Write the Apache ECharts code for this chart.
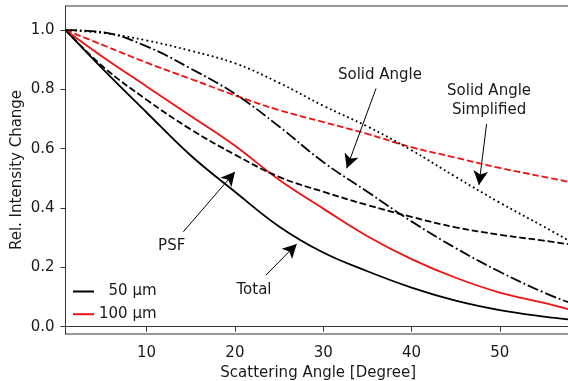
<!DOCTYPE html>
<html><head><meta charset="utf-8">
<script src="https://cdn.jsdelivr.net/npm/echarts@6/dist/echarts.min.js"></script>
<style>html,body{margin:0;padding:0;background:#fff}#c{width:568px;height:381px}</style>
</head><body><div id="c"></div>
<script>
// Scattering angle (degrees)
const angles = [0.82, 5, 10, 15, 20, 25, 30, 35, 40, 45, 50, 55, 58];
// 50 µm (black)
const total50 = [1.0, 0.87, 0.722, 0.577, 0.455, 0.338, 0.25, 0.187, 0.132, 0.088, 0.056, 0.034, 0.024];
const psf50 = [1.0, 0.878, 0.765, 0.665, 0.58, 0.505, 0.455, 0.41, 0.37, 0.335, 0.31, 0.29, 0.277];
const solidAngle = [1.0, 0.993, 0.945, 0.87, 0.785, 0.675, 0.555, 0.455, 0.355, 0.265, 0.185, 0.115, 0.08];
const solidAngleSimplified = [1.0, 0.99, 0.965, 0.93, 0.888, 0.822, 0.745, 0.675, 0.595, 0.505, 0.418, 0.337, 0.287];
// 100 µm (red)
const total100 = [1.0, 0.91, 0.81, 0.71, 0.61, 0.495, 0.398, 0.305, 0.228, 0.165, 0.115, 0.08, 0.057];
const psf100 = [1.0, 0.95, 0.89, 0.835, 0.78, 0.73, 0.69, 0.65, 0.605, 0.57, 0.535, 0.505, 0.487];

const xTicks = [10, 20, 30, 40, 50];
const yTicks = [0, 0.2, 0.4, 0.6, 0.8, 1.0];

// annotations in data coordinates: [text, textX, textY, tailX, tailY, tipX, tipY]
const annotations = [
  ['Solid Angle', 36.43, 0.848, 35.98, 0.803, 32.66, 0.534],
  ['Solid Angle\nSimplified', 48.78, 0.762, 48.5, 0.683, 47.64, 0.478],
  ['PSF', 12.84, 0.272, 14.16, 0.320, 20.01, 0.522],
  ['Total', 22.16, 0.124, 23.52, 0.174, 27.0, 0.279]
];

const BLACK = '#000000', RED = '#ee1111';
const FONT = 'DejaVu Sans';
const FS = 15;
const TXT = '#1a1a1a';
const LW = 1.8;
function pts(ys) { return angles.map((x, i) => [x, ys[i]]); }
function line(name, ys, color, type) {
  return {
    type: 'line', name: name, data: pts(ys), showSymbol: false, symbol: 'none',
    smooth: 0.4, silent: true, animation: false,
    lineStyle: { color: color, width: LW, type: type, cap: 'butt' },
    itemStyle: { color: color }
  };
}

const s0 = line('50 µm', total50, BLACK, 'solid');
s0.markLine = {
  silent: true, animation: false, symbol: ['none', 'arrow'], symbolSize: [11, 14],
  label: { show: false },
  lineStyle: { color: '#000', width: 1, type: 'solid' },
  emphasis: { disabled: true },
  data: annotations.map(a => [{ coord: [a[3], a[4]] }, { coord: [a[5], a[6]] }])
};
s0.markPoint = {
  silent: true, animation: false, symbol: 'circle', symbolSize: 0,
  itemStyle: { color: 'transparent' },
  label: { show: true, position: 'inside', color: TXT, fontFamily: FONT, fontSize: FS, lineHeight: 19, align: 'center', formatter: p => p.name },
  data: annotations.map(a => ({ name: a[0], coord: [a[1], a[2]] }))
};

const series = [
  s0,
  line('100 µm', total100, RED, 'solid'),
  line('50 µm', psf50, BLACK, [6.7, 2.9]),
  line('100 µm', psf100, RED, [6.7, 2.9]),
  line('50 µm', solidAngle, BLACK, [11.5, 2.9, 1.8, 2.9]),
  line('50 µm', solidAngleSimplified, BLACK, [1.8, 3.0])
];

const chart = echarts.init(document.getElementById('c'), null, { renderer: 'canvas' });
chart.setOption({
  animation: false,
  backgroundColor: '#fff',
  grid: { left: 65.5, top: 6, width: 505.5, height: 328, outerBoundsMode: 'none', containLabel: false, show: true, borderColor: '#333', borderWidth: 1, backgroundColor: 'transparent' },
  legend: {
    orient: 'vertical', left: 72, top: 284, padding: 0, itemWidth: 21, itemHeight: 14, itemGap: 7.7,
    data: ['50 µm', '100 µm'],
    selectedMode: false,
    itemStyle: { opacity: 0 },
    lineStyle: { width: 2, type: 'solid' },
    formatter: n => n === '50 µm' ? '  50 µm' : n,
    textStyle: { fontFamily: FONT, fontSize: FS, color: TXT }
  },
  xAxis: {
    type: 'value', min: 0.815, max: 58.06,
    name: 'Scattering Angle [Degree]', nameLocation: 'middle', nameGap: 32, nameMoveOverlap: false,
    nameTextStyle: { fontFamily: FONT, fontSize: FS, color: TXT },
    axisLine: { show: true, lineStyle: { color: '#333', width: 1 } },
    axisTick: { show: true, length: 5, inside: false, customValues: xTicks, lineStyle: { color: '#333' } },
    axisLabel: { customValues: xTicks, margin: 12, fontFamily: FONT, fontSize: FS, color: TXT },
    splitLine: { show: false }
  },
  yAxis: {
    type: 'value', min: -0.0246, max: 1.081,
    name: 'Rel. Intensity Change', nameLocation: 'middle', nameGap: 41, nameRotate: 90, nameMoveOverlap: false,
    nameTextStyle: { fontFamily: FONT, fontSize: FS, color: TXT },
    axisLine: { show: true, lineStyle: { color: '#333', width: 1 } },
    axisTick: { show: true, length: 5, customValues: yTicks, lineStyle: { color: '#333' } },
    axisLabel: { customValues: yTicks, margin: 11, fontFamily: FONT, fontSize: FS, color: TXT, formatter: v => v.toFixed(1) },
    splitLine: { show: false }
  },
  series: series
});
</script></body></html>
